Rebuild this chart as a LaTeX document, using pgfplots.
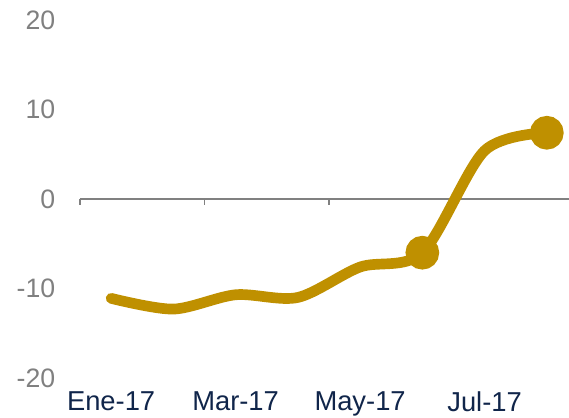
\documentclass[border=0pt]{standalone}
\usepackage{fontspec}
\setmainfont{Liberation Sans}
\usepackage{pgfplots}
\pgfplotsset{compat=1.18}
\definecolor{gold}{RGB}{191,144,0}
\definecolor{tickgray}{RGB}{128,128,128}
\definecolor{navy}{RGB}{16,37,74}

\begin{document}
\begin{tikzpicture}
\begin{axis}[
    scale only axis,
    width=366.75pt, height=268.5pt,
    xmin=-0.5, xmax=7.356,
    ymin=-20, ymax=20,
    axis line style={draw=none},
    major tick length=0pt,
    xtick={0,2,4,6},
    xticklabels={Ene-17,Mar-17,May-17,Jul-17},
    ytick={-20,-10,0,10,20},
    tick label style={font=\fontsize{20}{24}\selectfont},
    x tick label style={text=navy, yshift=-7pt, font=\fontsize{20.5}{24}\selectfont},
    y tick label style={text=tickgray, xshift=-15pt},
    /pgf/number format/assume math mode=true,
    clip=false,
]
% zero line with month-pair ticks
\draw[tickgray, line width=1pt] (axis cs:-0.5,0) -- (axis cs:7.356,0);
\pgfplotsinvokeforeach{-0.5,1.5,3.5,5.5}{
    \draw[tickgray, line width=1pt] (axis cs:#1,0) -- ([yshift=-4.5pt]axis cs:#1,0);
}
\addplot[gold, line width=8pt, smooth, line cap=round,
    mark=*, mark indices={6,8}, mark size=8.6pt,
    mark options={fill=gold, draw=none}]
    coordinates {(0,-11.1) (1,-12.3) (2,-10.7) (3,-11.0) (4,-7.6) (5,-6.0) (6,5.4) (7,7.4)};
\end{axis}
\pgfresetboundingbox
\path (-60pt,-30pt) rectangle (366.75pt,283.5pt);
\end{tikzpicture}
\end{document}
